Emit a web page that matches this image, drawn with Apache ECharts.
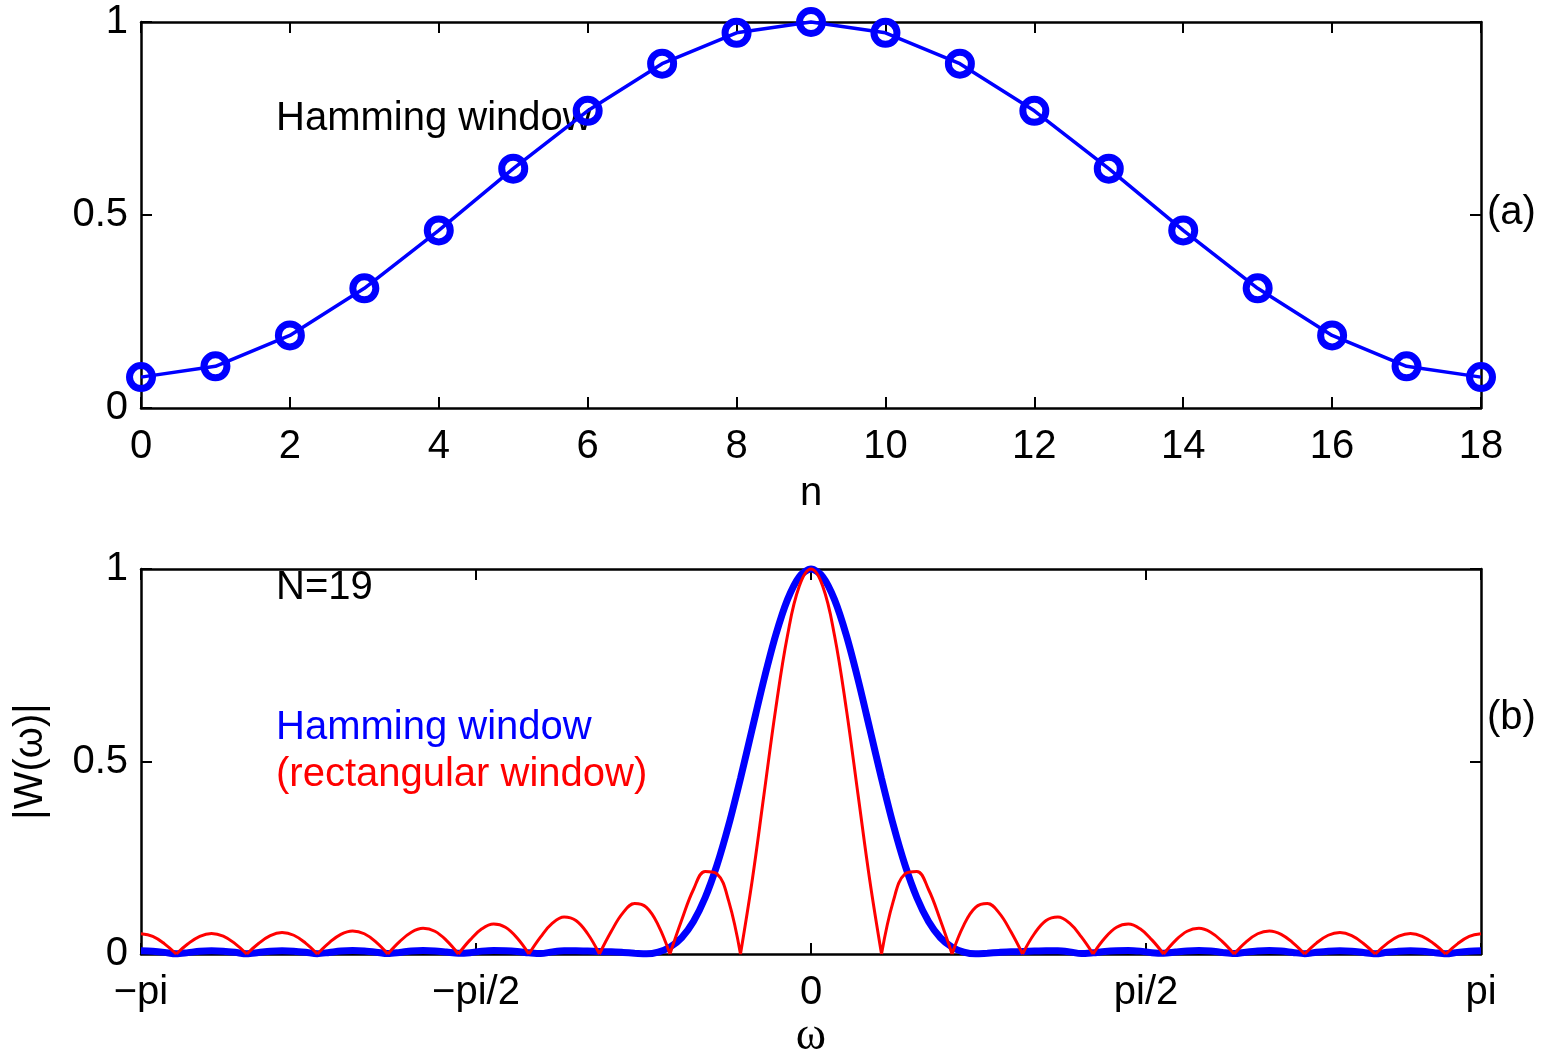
<!DOCTYPE html>
<html>
<head>
<meta charset="utf-8">
<script src="https://cdn.jsdelivr.net/npm/echarts@6/dist/echarts.min.js"></script>
<style>
html, body { margin: 0; padding: 0; background: #fff; }
#chart { width: 1544px; height: 1050px; }
</style>
</head>
<body>
<div id="chart"></div>
<script>
// (a) Hamming window samples, N = 19
const nValues = [0, 1, 2, 3, 4, 5, 6, 7, 8, 9, 10, 11, 12, 13, 14, 15, 16, 17, 18];
const hammingWindow = [0.08, 0.108, 0.188, 0.31, 0.46, 0.62, 0.77, 0.892, 0.972, 1,
  0.972, 0.892, 0.77, 0.62, 0.46, 0.31, 0.188, 0.108, 0.08];

// (b) |W(w)| sampled at 115 equally spaced points from -pi to pi (sample k = -57..57)
const hammingSpectrum = [
  0.0082, 0.0070, 0.0042, 0.0005, 0.0036, 0.0070, 0.0082, 0.0071, 0.0043, 0.0006,
  0.0038, 0.0072, 0.0085, 0.0074, 0.0045, 0.0008, 0.0040, 0.0075, 0.0088, 0.0076,
  0.0048, 0.0012, 0.0040, 0.0078, 0.0092, 0.0080, 0.0050, 0.0019, 0.0035, 0.0075,
  0.0094, 0.0085, 0.0065, 0.0032, 0.0010, 0.0055, 0.0082, 0.0082, 0.0075, 0.0063,
  0.0058, 0.0042, 0.0022, 0.0004, 0.0049, 0.0178, 0.0428, 0.0846, 0.1467, 0.2307,
  0.3352, 0.4559, 0.5851, 0.7130, 0.8284, 0.9203, 0.9796,
  1,
  0.9796, 0.9203, 0.8284, 0.7130, 0.5851, 0.4559, 0.3352, 0.2307, 0.1467, 0.0846,
  0.0428, 0.0178, 0.0049, 0.0004, 0.0022, 0.0042, 0.0058, 0.0063, 0.0075, 0.0082,
  0.0082, 0.0055, 0.0010, 0.0032, 0.0065, 0.0085, 0.0094, 0.0075, 0.0035, 0.0019,
  0.0050, 0.0080, 0.0092, 0.0078, 0.0040, 0.0012, 0.0048, 0.0076, 0.0088, 0.0075,
  0.0040, 0.0008, 0.0045, 0.0074, 0.0085, 0.0072, 0.0038, 0.0006, 0.0043, 0.0071,
  0.0082, 0.0070, 0.0036, 0.0005, 0.0042, 0.0070, 0.0082
];
const rectSpectrum = [
  0.0526, 0.0456, 0.0264, 0, 0.0265, 0.0460, 0.0534, 0.0464, 0.0270, 0,
  0.0273, 0.0478, 0.0556, 0.0487, 0.0284, 0, 0.0291, 0.0511, 0.0598, 0.0526,
  0.0309, 0, 0.0320, 0.0566, 0.0667, 0.0591, 0.0349, 0, 0.0367, 0.0654,
  0.0777, 0.0694, 0.0414, 0, 0.0444, 0.0800, 0.0962, 0.0870, 0.0526, 0,
  0.0583, 0.1068, 0.1310, 0.1211, 0.0751, 0, 0.0882, 0.1675, 0.2144, 0.2084,
  0.1373, 0, 0.1916, 0.4143, 0.6374, 0.8274, 0.9551,
  1,
  0.9551, 0.8274, 0.6374, 0.4143, 0.1916, 0, 0.1373, 0.2084, 0.2144, 0.1675,
  0.0882, 0, 0.0751, 0.1211, 0.1310, 0.1068, 0.0583, 0, 0.0526, 0.0870,
  0.0962, 0.0800, 0.0444, 0, 0.0414, 0.0694, 0.0777, 0.0654, 0.0367, 0,
  0.0349, 0.0591, 0.0667, 0.0566, 0.0320, 0, 0.0309, 0.0526, 0.0598, 0.0511,
  0.0291, 0, 0.0284, 0.0487, 0.0556, 0.0478, 0.0273, 0, 0.0270, 0.0464,
  0.0534, 0.0460, 0.0265, 0, 0.0264, 0.0456, 0.0526
];
const omegaTickLabels = ['\u2212pi', '\u2212pi/2', '0', 'pi/2', 'pi'];

const FONT = 'Liberation Sans, Arial, Helvetica, sans-serif';
const FS = 40;

const half = (rectSpectrum.length - 1) / 2;

function toPairs(vals) {
  return vals.map((v, i) => [i - half, v]);
}

// break the red line at each zero so the smoothing keeps the sharp notches
function splitAtZeros(vals) {
  const out = [];
  vals.forEach((v, i) => {
    out.push([i - half, v]);
    if (v === 0 && i > 0 && i < vals.length - 1) {
      out.push([i - half, '-']);
      out.push([i - half, v]);
    }
  });
  return out;
}

const chart = echarts.init(document.getElementById('chart'));

const axisLine = { show: true, onZero: false, lineStyle: { color: '#000', width: 2.5 } };
const tickIn = { show: true, inside: true, length: 11, lineStyle: { color: '#000', width: 2 } };
const labelStyle = { color: '#000', fontSize: FS, fontFamily: FONT };

function boxAxes(gridIndex, xMin, xMax, xInt, xFmt, xName, xNameFont, xNameSize, xNameGap, yName) {
  const xs = [
    {
      type: 'value', gridIndex: gridIndex, min: xMin, max: xMax, interval: xInt,
      position: 'bottom', axisLine: axisLine, axisTick: tickIn, splitLine: { show: false },
      axisLabel: Object.assign({ margin: 19, formatter: xFmt, showMinLabel: true, showMaxLabel: true }, labelStyle),
      name: xName, nameLocation: 'middle', nameGap: xNameGap,
      nameTextStyle: { color: '#000', fontSize: xNameSize, fontFamily: xNameFont }
    },
    {
      type: 'value', gridIndex: gridIndex, min: xMin, max: xMax, interval: xInt,
      position: 'top', axisLine: axisLine, axisTick: tickIn, splitLine: { show: false },
      axisLabel: { show: false }
    }
  ];
  const ys = [
    {
      type: 'value', gridIndex: gridIndex, min: 0, max: 1, interval: 0.5,
      position: 'left', axisLine: axisLine, axisTick: tickIn, splitLine: { show: false },
      axisLabel: Object.assign({ margin: 13 }, labelStyle),
      name: yName, nameLocation: 'middle', nameGap: 90,
      nameTextStyle: { color: '#000', fontSize: FS, fontFamily: FONT }
    },
    {
      type: 'value', gridIndex: gridIndex, min: 0, max: 1, interval: 0.5,
      position: 'right', axisLine: axisLine, axisTick: tickIn, splitLine: { show: false },
      axisLabel: { show: false }
    }
  ];
  return { xs: xs, ys: ys };
}

const axesA = boxAxes(0, 0, 18, 2, null, 'n', FONT, FS, 66, '');
const axesB = boxAxes(1, -half, half, half / 2,
  function (v) { return omegaTickLabels[Math.round((v + half) / (half / 2))]; },
  '\u03c9', 'Liberation Serif, Times New Roman, serif', 46, 56, '|W(\u03c9)|');

function label(text, x, y, color) {
  return {
    type: 'text', left: x, top: y,
    style: { text: text, fill: color, fontSize: FS, fontFamily: FONT }
  };
}

const option = {
  backgroundColor: '#fff',
  animation: false,
  grid: [
    { left: 141, top: 22, width: 1340, height: 386, outerBoundsMode: 'none', containLabel: false },
    { left: 141, top: 569, width: 1340, height: 385, outerBoundsMode: 'none', containLabel: false }
  ],
  xAxis: axesA.xs.concat(axesB.xs),
  yAxis: axesA.ys.concat(axesB.ys),
  series: [
    {
      type: 'line', xAxisIndex: 0, yAxisIndex: 0, clip: false,
      data: nValues.map((n, i) => [n, hammingWindow[i]]),
      symbol: 'circle', symbolSize: 23,
      itemStyle: { color: 'rgba(0,0,0,0)', borderColor: '#0000ff', borderWidth: 7 },
      lineStyle: { color: '#0000ff', width: 3.5 }
    },
    {
      type: 'line', xAxisIndex: 2, yAxisIndex: 2, clip: false,
      data: toPairs(hammingSpectrum), showSymbol: false, smooth: 0.3,
      lineStyle: { color: '#0000ff', width: 7 }
    },
    {
      type: 'line', xAxisIndex: 2, yAxisIndex: 2, clip: false,
      data: splitAtZeros(rectSpectrum), showSymbol: false, smooth: 0.4, connectNulls: false,
      lineStyle: { color: '#ff0000', width: 3 }
    }
  ],
  graphic: [
    label('Hamming window', 276, 99, '#000'),
    label('(a)', 1487, 193, '#000'),
    label('N=19', 276, 568, '#000'),
    label('Hamming window', 276, 708, '#0000ff'),
    label('(rectangular window)', 276, 755, '#ff0000'),
    label('(b)', 1487, 698, '#000')
  ]
};

chart.setOption(option);
</script>
</body>
</html>
